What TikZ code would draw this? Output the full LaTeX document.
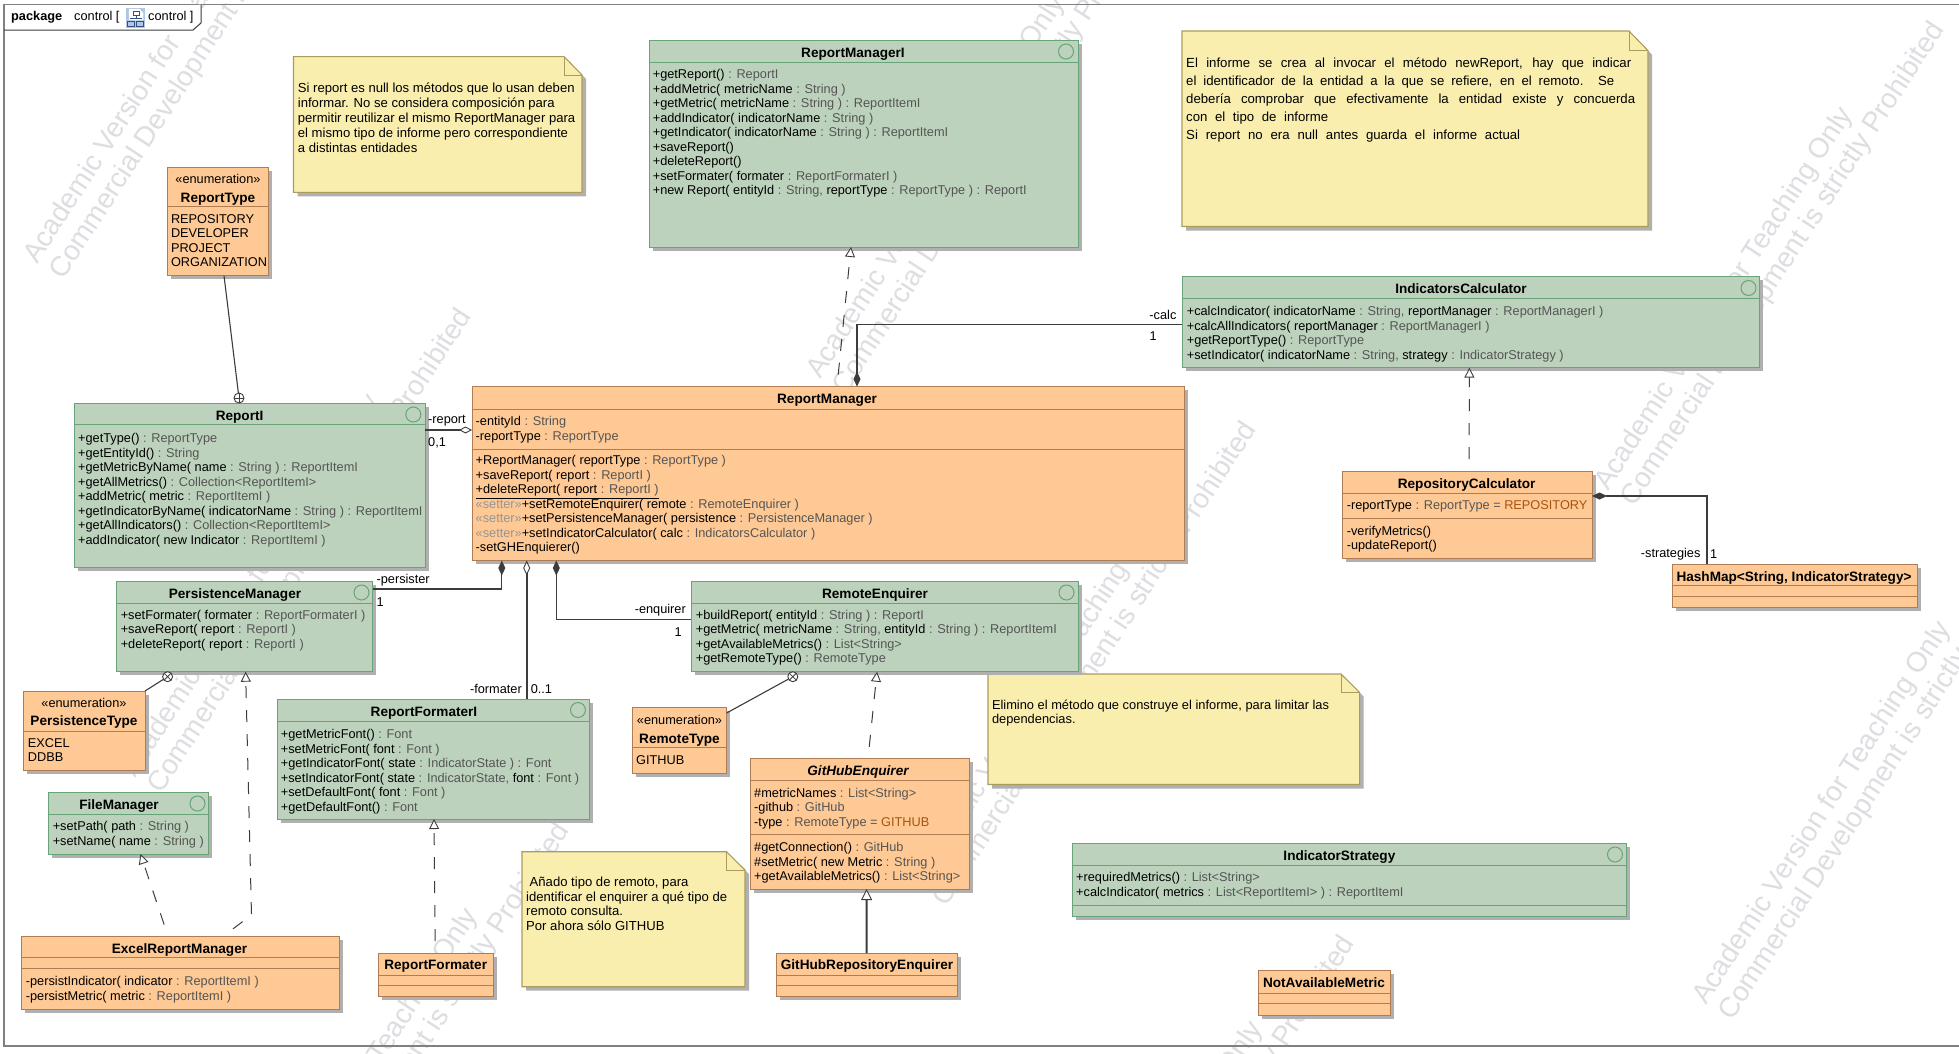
\documentclass[tikz,border=0pt]{standalone}
\usepackage{fontspec}
\setmainfont{Liberation Sans}
\usetikzlibrary{arrows.meta,calc}
\definecolor{fillO}{RGB}{254,201,148}
\definecolor{lineO}{RGB}{176,124,84}
\definecolor{fillG}{RGB}{188,210,188}
\definecolor{lineG}{RGB}{104,164,120}
\definecolor{fillN}{RGB}{249,238,174}
\definecolor{lineN}{RGB}{170,156,92}
\definecolor{shadowc}{RGB}{176,176,176}
\definecolor{wmc}{RGB}{222,222,226}
\definecolor{tyc}{RGB}{85,85,85}
\definecolor{initc}{RGB}{165,85,15}
\definecolor{setc}{RGB}{150,150,150}
\definecolor{conc}{RGB}{60,60,60}
\definecolor{framec}{RGB}{128,128,128}
\newcommand{\ty}[1]{{\color{tyc}#1}}
\newcommand{\ini}[1]{{\color{initc}#1}}
\newcommand{\stp}[1]{{\color{setc}#1}}
\tikzset{
 clsO/.style={draw=lineO,fill=fillO,line width=1pt,inner sep=0pt,outer sep=0pt},
 clsG/.style={draw=lineG,fill=fillG,line width=1pt,inner sep=0pt,outer sep=0pt},
 dvO/.style={draw=lineO,line width=.9pt},
 dvG/.style={draw=lineG,line width=.9pt},
 ttl/.style={anchor=base,inner sep=0pt,font=\fontsize{13.6}{15}\selectfont\bfseries},
 ttli/.style={anchor=base,inner sep=0pt,font=\fontsize{13.6}{15}\selectfont\bfseries\itshape},
 ster/.style={anchor=base,inner sep=0pt,font=\fontsize{12.75}{15}\selectfont},
 memf/.style={anchor=north west,inner sep=0pt,align=left,font=\fontsize{12.75}{14.5}\selectfont},
 lab/.style={inner sep=0pt,font=\fontsize{12.75}{15}\selectfont},
 wmark/.style={anchor=base west,inner sep=0pt,rotate=57,text=wmc,font=\fontsize{28}{30}\selectfont},
 conn/.style={draw=conc,line width=1.1pt},
 thick conn/.style={draw=conc,line width=2pt},
 real/.style={draw=conc,line width=1pt,dash pattern=on 12pt off 12pt,dash phase=12pt,-{Triangle[open,fill=white,length=10pt,width=10pt,line width=.9pt]}},
 nestc/.style={circle,draw=conc,fill=white,line width=.9pt,minimum size=10pt,inner sep=0pt,outer sep=0pt},
 iconc/.style={circle,draw=lineG,line width=1pt,minimum size=15pt,inner sep=0pt},
}
\newcommand{\ubox}[6]{%
 \fill[shadowc] ({#3+3.5},{#4+3.5}) rectangle ({#5+3.5},{#6+3.5});
 \pgfmathsetmacro{\bw}{#5-#3}\pgfmathsetmacro{\bh}{#6-#4}
 \node[#2,minimum width=\bw pt,minimum height=\bh pt] (#1) at ({(#3+#5)/2},{(#4+#6)/2}) {};}
\newcommand{\dvd}[3]{\draw[#2] (#1.west |- 0,#3) -- (#1.east |- 0,#3);}
\newcommand{\ttlnode}[5][ttl]{\node[#1] (#2) at ({#3},{#4+4.6}) {#5};}
\newcommand{\mem}[4]{\node[memf] (#1) at ({#2},{#3-5.4}) {\rule{0pt}{10pt}#4};}
\newcommand{\icn}[3]{\node[iconc] (#1) at (#2,#3) {};}
\newcommand{\wm}[3]{%
 \node[wmark] (#1a) at ({#2+12},{#3+6}) {Academic Version for Teaching Only};
 \node[wmark] (#1b) at ({#2+38},{#3+22}) {Commercial Development is strictly Prohibited};}
\newcommand{\unote}[7]{% x1 y1 x2 y2 foldx foldy name
 \fill[shadowc] ({#1+4},{#2+4}) -- ({#5+4},{#2+4}) -- ({#3+4},{#6+4}) -- ({#3+4},{#4+4}) -- ({#1+4},{#4+4}) -- cycle;
 \draw[draw=lineN,fill=fillN,line width=1.1pt] (#1,#2) -- (#5,#2) -- (#3,#6) -- (#3,#4) -- (#1,#4) -- cycle;
 \draw[draw=lineN,line width=1pt] (#5,#2) -- (#5,#6) -- (#3,#6);}
\newcommand{\nest}[4]{%
 \node[nestc,rotate=#4] (#1) at (#2,#3) {};
 \draw[draw=conc,line width=.8pt] (#1.north) -- (#1.south) (#1.west) -- (#1.east);}
\begin{document}
\begin{tikzpicture}[x=1pt,y=-1pt]
\useasboundingbox (0,0) rectangle (1959,1053);
\fill[white] (0,0) rectangle (1959,1053);
% watermarks
\wm{wa}{25}{259}
\wm{wb}{808}{374}
\wm{wc}{1596}{486}
\wm{wd}{123}{773}
\wm{we}{908}{886}
\wm{wf}{1694}{1000}
\wm{wg}{221}{1287}
\wm{wh}{1006}{1400}
% frame
\draw[draw=framec,line width=1.6pt] (1959,4.5) -- (4,4.5) -- (4,1046) -- (1959,1046);
\draw[draw=conc,fill=white,line width=1pt] (4,30) -- (193,30) -- (201,23) -- (201,4.5);
\node[anchor=base west,inner sep=0pt,font=\fontsize{12.75}{15}\selectfont\bfseries] (pkgk) at (11,20.5) {package};
\node[anchor=base west,inner sep=0pt,font=\fontsize{12.75}{15}\selectfont] (pkga) at (74,20.5) {control [};
\node[anchor=base west,inner sep=0pt,font=\fontsize{12.75}{15}\selectfont] (pkgb) at (148,20.5) {control ]};
\fill[fill={rgb,255:red,176;green,198;blue,228}] (126,8) rectangle (145,28);
\draw[draw=white,fill=white,line width=.4pt] (129,9) -- (139,9) -- (143,13) -- (143,20) -- (129,20) -- cycle;
\draw[draw={rgb,255:red,50;green,80;blue,130},line width=.8pt] (133,11) rectangle (139,15) (136,15) -- (136,18) (130,18) -- (142,18) (127.5,21) rectangle (134,26) (136.5,21) rectangle (143,26);
% notes
\unote{293.5}{56.6}{582}{192.4}{564}{75}{n1}
\node[memf,font=\fontsize{13.1}{15}\selectfont] (note1) at (297.7,82) {\rule{0pt}{10pt}Si report es null los métodos que lo usan deben\\informar. No se considera composición para\\permitir reutilizar el mismo ReportManager para\\el mismo tipo de informe pero correspondiente\\a distintas entidades};
\unote{1182}{31}{1648}{226.5}{1629}{50.6}{n2}
\node[memf,font=\fontsize{13.2}{18}\selectfont] (note2) at (1186,57.6) {\rule{0pt}{10pt}\makebox[445pt][s]{El informe se crea al invocar el método newReport, hay que indicar}\\\makebox[428pt][s]{el identificador de la entidad a la que se refiere, en el remoto. Se}\\\makebox[449pt][s]{debería comprobar que efectivamente la entidad existe y concuerda}\\\makebox[142pt][s]{con el tipo de informe}\\\makebox[334pt][s]{Si report no era null antes guarda el informe actual}};
\unote{522}{851.7}{745}{986.7}{726.6}{870}{n3}
\node[memf,font=\fontsize{13.1}{14.7}\selectfont] (note3) at (526,876.3) {\rule{0pt}{10pt}\hspace*{3.5pt}Añado tipo de remoto, para\\identificar el enquirer a qué tipo de\\remoto consulta.\\Por ahora sólo GITHUB};
\unote{988}{674}{1359.6}{784.5}{1341}{692.5}{n4}
\node[memf,font=\fontsize{12.85}{14.5}\selectfont] (note4) at (991.8,698.9) {\rule{0pt}{10pt}Elimino el método que construye el informe, para limitar las\\dependencias.};
% ReportType
\ubox{RT}{clsO}{167}{167}{268.7}{275.6}
\dvd{RT}{dvO}{206.5}
\node[ster] (RTs) at (218,183.6) {«enumeration»};
\ttlnode{RTt}{218}{197.8}{ReportType}
\mem{RTm}{170.8}{218.5}{REPOSITORY\\DEVELOPER\\PROJECT\\ORGANIZATION}
% ReportI
\ubox{RI}{clsG}{74}{403}{425}{567}
\dvd{RI}{dvG}{424.7}
\ttlnode{RIt}{239.6}{416}{ReportI}
\icn{RIi}{413.3}{414.5}
\mem{RIm}{78}{438}{+getType() \ty{: ReportType}\\+getEntityId() \ty{: String}\\+getMetricByName( name \ty{: String )  : ReportItemI}\\+getAllMetrics() \ty{: Collection<ReportItemI>}\\+addMetric( metric \ty{: ReportItemI )}\\+getIndicatorByName( indicatorName \ty{: String ) : ReportItemI}\\+getAllIndicators() \ty{: Collection<ReportItemI>}\\+addIndicator( new Indicator \ty{: ReportItemI )}}
% ReportManagerI
\ubox{RMI}{clsG}{649}{40}{1078}{247}
\dvd{RMI}{dvG}{62}
\ttlnode{RMIt}{853}{52.6}{ReportManagerI}
\icn{RMIi}{1066}{51.5}
\mem{RMIm}{652.6}{74}{+getReport() \ty{: ReportI}\\+addMetric( metricName \ty{: String )}\\+getMetric( metricName \ty{: String ) : ReportItemI}\\+addIndicator( indicatorName \ty{: String )}\\+getIndicator( indicatorName \ty{: String ) : ReportItemI}\\+saveReport()\\+deleteReport()\\+setFormater( formater \ty{: ReportFormaterI )}\\+new Report( entityId \ty{: String,} reportType \ty{: ReportType ) : ReportI}}
% ReportManager
\ubox{RM}{clsO}{472}{386.6}{1184}{560.5}
\dvd{RM}{dvO}{409}
\dvd{RM}{dvO}{449}
\ttlnode{RMt}{827}{399}{ReportManager}
\mem{RMa}{475.5}{421}{-entityId \ty{: String}\\-reportType \ty{: ReportType}}
\mem{RMo}{475.5}{460}{+ReportManager( reportType \ty{: ReportType )}\\+saveReport( report \ty{: ReportI )}\\\underline{+deleteReport( report \ty{: ReportI )}}\\\stp{«setter»}+setRemoteEnquirer( remote \ty{: RemoteEnquirer )}\\\stp{«setter»}+setPersistenceManager( persistence \ty{: PersistenceManager )}\\\stp{«setter»}+setIndicatorCalculator( calc \ty{: IndicatorsCalculator )}\\-setGHEnquierer()}
% IndicatorsCalculator
\ubox{IC}{clsG}{1182}{276.7}{1759}{367.6}
\dvd{IC}{dvG}{298.4}
\ttlnode{ICt}{1461}{288.5}{IndicatorsCalculator}
\icn{ICi}{1748.5}{288}
\mem{ICm}{1186.6}{310.7}{+calcIndicator( indicatorName \ty{: String,} reportManager \ty{: ReportManagerI )}\\+calcAllIndicators( reportManager \ty{: ReportManagerI )}\\+getReportType() \ty{: ReportType}\\+setIndicator( indicatorName \ty{: String,} strategy \ty{: IndicatorStrategy )}}
% RepositoryCalculator
\ubox{RC}{clsO}{1342.5}{471}{1592}{558}
\dvd{RC}{dvO}{493}
\dvd{RC}{dvO}{518}
\ttlnode{RCt}{1466.6}{484}{RepositoryCalculator}
\mem{RCa}{1346.6}{504.3}{-reportType \ty{: ReportType =} \ini{REPOSITORY}}
\mem{RCo}{1346.6}{530.4}{-verifyMetrics()\\-updateReport()}
% HashMap
\ubox{HM}{clsO}{1672.7}{564}{1917}{607.5}
\dvd{HM}{dvO}{585.8}
\dvd{HM}{dvO}{596}
\ttlnode{HMt}{1794}{576.5}{HashMap<String, IndicatorStrategy>}
% PersistenceManager
\ubox{PM}{clsG}{116}{581.7}{372.5}{671.7}
\dvd{PM}{dvG}{603}
\ttlnode{PMt}{235}{594}{PersistenceManager}
\icn{PMi}{361.5}{592.5}
\mem{PMm}{120.6}{614.3}{+setFormater( formater \ty{: ReportFormaterI )}\\+saveReport( report \ty{: ReportI )}\\+deleteReport( report \ty{: ReportI )}}
% PersistenceType
\ubox{PT}{clsO}{23}{691}{145}{770.7}
\dvd{PT}{dvO}{731}
\node[ster] (PTs) at (84,707.3) {«enumeration»};
\ttlnode{PTt}{84}{720.7}{PersistenceType}
\mem{PTm}{27.7}{742.3}{EXCEL\\DDBB}
% FileManager
\ubox{FM}{clsG}{48}{792.7}{208}{854}
\dvd{FM}{dvG}{814}
\ttlnode{FMt}{119}{805}{FileManager}
\icn{FMi}{197.5}{803.5}
\mem{FMm}{52.6}{825.7}{+setPath( path \ty{: String )}\\+setName( name \ty{: String )}}
% ReportFormaterI
\ubox{RF}{clsG}{277}{699}{589}{819}
\dvd{RF}{dvG}{721}
\ttlnode{RFt}{424}{711.7}{ReportFormaterI}
\icn{RFi}{578}{710}
\mem{RFm}{280.7}{733.7}{+getMetricFont() \ty{: Font}\\+setMetricFont( font \ty{: Font )}\\+getIndicatorFont( state \ty{: IndicatorState ) : Font}\\+setIndicatorFont( state \ty{: IndicatorState,} font \ty{: Font )}\\+setDefaultFont( font \ty{: Font )}\\+getDefaultFont() \ty{: Font}}
% ExcelReportManager
\ubox{ER}{clsO}{21.7}{936}{339}{1009}
\dvd{ER}{dvO}{957.7}
\dvd{ER}{dvO}{968}
\ttlnode{ERt}{179.5}{948.7}{ExcelReportManager}
\mem{ERm}{25.7}{980.7}{-persistIndicator( indicator \ty{: ReportItemI )}\\-persistMetric( metric \ty{: ReportItemI )}}
% ReportFormater
\ubox{RFC}{clsO}{378}{953}{493.5}{996.7}
\dvd{RFC}{dvO}{975}
\dvd{RFC}{dvO}{985.7}
\ttlnode{RFCt}{435.7}{964.7}{ReportFormater}
% RemoteEnquirer
\ubox{RE}{clsG}{691}{581.7}{1078}{671.7}
\dvd{RE}{dvG}{603}
\ttlnode{REt}{875}{594}{RemoteEnquirer}
\icn{REi}{1066.5}{592.5}
\mem{REm}{695.6}{614.3}{+buildReport( entityId \ty{: String ) : ReportI}\\+getMetric( metricName \ty{: String,} entityId \ty{: String ) : ReportItemI}\\+getAvailableMetrics() \ty{: List<String>}\\+getRemoteType() \ty{: RemoteType}}
% RemoteType
\ubox{RTY}{clsO}{632.4}{707.7}{726.6}{773}
\dvd{RTY}{dvO}{747.7}
\node[ster] (RTYs) at (679.5,724.6) {«enumeration»};
\ttlnode{RTYt}{679.5}{738.7}{RemoteType}
\mem{RTYm}{636}{759.3}{GITHUB}
% GitHubEnquirer
\ubox{GE}{clsO}{750.7}{758.7}{969.6}{889}
\dvd{GE}{dvO}{780}
\dvd{GE}{dvO}{834.7}
\ttlnode[ttli]{GEt}{858}{771}{GitHubEnquirer}
\mem{GEa}{754}{792.3}{\#metricNames \ty{: List<String>}\\-github \ty{: GitHub}\\-type \ty{: RemoteType =} \ini{GITHUB}}
\mem{GEo}{754}{846.7}{\#getConnection() \ty{: GitHub}\\\#setMetric( new Metric \ty{: String )}\\+getAvailableMetrics() \ty{: List<String>}}
% GitHubRepositoryEnquirer
\ubox{GR}{clsO}{776}{953}{957.7}{996.7}
\dvd{GR}{dvO}{975}
\dvd{GR}{dvO}{985.7}
\ttlnode{GRt}{867}{964.7}{GitHubRepositoryEnquirer}
% IndicatorStrategy
\ubox{IS}{clsG}{1072}{843.5}{1626}{916.5}
\dvd{IS}{dvG}{865.5}
\dvd{IS}{dvG}{905.5}
\ttlnode{ISt}{1339.4}{855.5}{IndicatorStrategy}
\icn{ISi}{1615}{854.5}
\mem{ISm}{1076}{877}{+requiredMetrics() \ty{: List<String>}\\+calcIndicator( metrics \ty{: List<ReportItemI> ) : ReportItemI}}
% NotAvailableMetric
\ubox{NA}{clsO}{1258}{970.5}{1390}{1015}
\dvd{NA}{dvO}{993}
\dvd{NA}{dvO}{1003.5}
\ttlnode{NAt}{1324}{982.5}{NotAvailableMetric}
% nesting
\nest{nesta}{239}{398}{0}
\nest{nestb}{167.6}{676.7}{45}
\nest{nestc}{792.8}{676.7}{45}
\coordinate (via) at (251.5,915);
\draw[conn] ($(RT.south west)+(57,0)$) -- (nesta);
\draw[conn] (PT.north east) -- (nestb);
\draw[conn] ($(RTY.north east)+(0,5.3)$) -- (nestc);
% associations
\draw[thick conn,-{Diamond[open,fill=white,length=13pt,width=7pt,line width=.9pt]}] ($(RI.north east)+(0,27)$) -- ($(RM.north west)+(0,43.4)$);
\draw[conn,{Diamond[length=15pt,width=7pt]}-] ($(RM.north west)+(385,0)$) |- ($(IC.north west)+(0,47.8)$);
\draw[conn,{Diamond[length=15pt,width=7pt]}-] ($(RC.north east)+(0,25)$) -| ($(HM.north west)+(34.3,0)$);
\draw[conn,{Diamond[length=15pt,width=7pt]}-] ($(RM.south west)+(29.8,0)$) |- ($(PM.north east)+(0,7.3)$);
\draw[thick conn,{Diamond[open,fill=white,length=15pt,width=7pt,line width=.9pt]}-] ($(RM.south west)+(54.7,0)$) -- ($(RF.north west)+(249.7,0)$);
\draw[conn,{Diamond[length=15pt,width=7pt]}-] ($(RM.south west)+(84.3,0)$) |- ($(RE.north west)+(0,37.6)$);
% realizations
\draw[real] ($(RM.north west)+(365,0)$) -- ($(RMI.south west)+(202,0)$);
\draw[real] ($(RC.north west)+(126.5,0)$) -- ($(IC.south west)+(287.4,0)$);
\draw[real] ($(ER.north west)+(201.7,0)$) -- (via) -- ($(PM.south west)+(129.6,0)$);
\draw[real] ($(ER.north west)+(146.3,0)$) -- ($(FM.south west)+(92.5,0)$);
\draw[real] ($(RFC.north west)+(57.3,0)$) -- ($(RF.south west)+(157,0)$);
\draw[real] ($(GE.north west)+(117.3,0)$) -- ($(RE.south west)+(186,0)$);
\draw[thick conn,-{Triangle[open,fill=white,length=11pt,width=11pt,line width=.9pt]}] ($(GR.north west)+(90.6,0)$) -- ($(GE.south west)+(115.9,0)$);
% labels
\node[lab,anchor=west] (l1) at (428,421) {-report};
\node[lab,anchor=west] (l2) at (428,443) {0,1};
\node[lab,anchor=east] (l3) at (1176.6,315) {-calc};
\node[lab,anchor=east] (l4) at (1157,336) {1};
\node[lab,anchor=east] (l5) at (1700.6,554.5) {-strategies};
\node[lab,anchor=west] (l6) at (1710,554.5) {1};
\node[lab,anchor=west] (l7) at (376.4,580) {-persister};
\node[lab,anchor=west] (l8) at (376.4,601.7) {1};
\node[lab,anchor=east] (l9) at (522,689.3) {-formater};
\node[lab,anchor=west] (l10) at (530.6,689.3) {0..1};
\node[lab,anchor=east] (l11) at (686,610) {-enquirer};
\node[lab,anchor=east] (l12) at (682,631.7) {1};
\end{tikzpicture}
\end{document}
